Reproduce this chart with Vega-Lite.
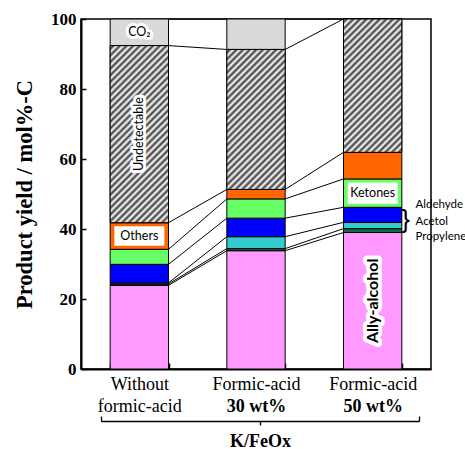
{
  "$schema": "https://vega.github.io/schema/vega-lite/v6.json",
  "width": 350,
  "height": 350,
  "autosize": {"type": "none"},
  "padding": {"left": 81, "top": 19, "right": 34, "bottom": 80},
  "config": {"view": {"stroke": "black", "strokeWidth": 1.5}, "axis": {"grid": false}},
  "data": {"values": [
    {"cond": "Without formic-acid", "n": 1, "seg": "Ally-alcohol", "s": 1, "v": 23.9},
    {"cond": "Without formic-acid", "n": 1, "seg": "Propylene", "s": 2, "v": 0.4},
    {"cond": "Without formic-acid", "n": 1, "seg": "Acetol", "s": 3, "v": 0.3},
    {"cond": "Without formic-acid", "n": 1, "seg": "Aldehyde", "s": 4, "v": 5.3},
    {"cond": "Without formic-acid", "n": 1, "seg": "Ketones", "s": 5, "v": 4.3},
    {"cond": "Without formic-acid", "n": 1, "seg": "Others", "s": 6, "v": 7.6},
    {"cond": "Without formic-acid", "n": 1, "seg": "Undetectable", "s": 7, "v": 50.6},
    {"cond": "Without formic-acid", "n": 1, "seg": "CO₂", "s": 8, "v": 7.6},
    {"cond": "Formic-acid 30 wt%", "n": 2, "seg": "Ally-alcohol", "s": 1, "v": 33.8},
    {"cond": "Formic-acid 30 wt%", "n": 2, "seg": "Propylene", "s": 2, "v": 0.6},
    {"cond": "Formic-acid 30 wt%", "n": 2, "seg": "Acetol", "s": 3, "v": 3.4},
    {"cond": "Formic-acid 30 wt%", "n": 2, "seg": "Aldehyde", "s": 4, "v": 5.3},
    {"cond": "Formic-acid 30 wt%", "n": 2, "seg": "Ketones", "s": 5, "v": 5.5},
    {"cond": "Formic-acid 30 wt%", "n": 2, "seg": "Others", "s": 6, "v": 2.7},
    {"cond": "Formic-acid 30 wt%", "n": 2, "seg": "Undetectable", "s": 7, "v": 40.0},
    {"cond": "Formic-acid 30 wt%", "n": 2, "seg": "CO₂", "s": 8, "v": 8.7},
    {"cond": "Formic-acid 50 wt%", "n": 3, "seg": "Ally-alcohol", "s": 1, "v": 39.0},
    {"cond": "Formic-acid 50 wt%", "n": 3, "seg": "Propylene", "s": 2, "v": 1.1},
    {"cond": "Formic-acid 50 wt%", "n": 3, "seg": "Acetol", "s": 3, "v": 1.8},
    {"cond": "Formic-acid 50 wt%", "n": 3, "seg": "Aldehyde", "s": 4, "v": 4.3},
    {"cond": "Formic-acid 50 wt%", "n": 3, "seg": "Ketones", "s": 5, "v": 8.1},
    {"cond": "Formic-acid 50 wt%", "n": 3, "seg": "Others", "s": 6, "v": 7.6},
    {"cond": "Formic-acid 50 wt%", "n": 3, "seg": "Undetectable", "s": 7, "v": 38.1},
    {"cond": "Formic-acid 50 wt%", "n": 3, "seg": "CO₂", "s": 8, "v": 0}
  ]},
  "transform": [
    {"stack": "v", "groupby": ["cond"], "sort": [{"field": "s"}], "as": ["y0", "y1"]},
    {"window": [{"op": "lead", "field": "y1", "as": "ny"}, {"op": "lead", "field": "cond", "as": "nc"}], "groupby": ["seg"], "sort": [{"field": "n"}]}
  ],
  "resolve": {"scale": {"x": "independent"}, "axis": {"x": "independent", "y": "independent"}},
  "layer": [
    {
      "mark": {"type": "bar", "stroke": "black", "strokeWidth": 1},
      "encoding": {
        "x": {"field": "cond", "type": "nominal",
          "scale": {"type": "band", "domain": ["Without formic-acid", "Formic-acid 30 wt%", "Formic-acid 50 wt%"], "paddingInner": 0.5, "paddingOuter": 0.25},
          "axis": {"orient": "bottom", "title": null, "domainColor": "black", "domainWidth": 2, "tickBand": "extent", "tickColor": "black", "tickSize": -6, "tickWidth": 1.5, "labelFont": "Liberation Serif", "labelFontSize": 18, "labelColor": "black", "labelPadding": 12, "labelLineHeight": 22, "labelAngle": 0, "labelExpr": "datum.label == 'Without formic-acid' ? ['Without', 'formic-acid'] : (datum.label == 'Formic-acid 30 wt%' || datum.label == 'Formic-acid 50 wt%') ? ['Formic-acid', ''] : ''"}},
        "y": {"field": "y0", "type": "quantitative", "scale": {"domain": [0, 100], "nice": false},
          "axis": {"orient": "left", "title": "Product yield / mol%-C", "values": [0, 20, 40, 60, 80, 100], "domainColor": "black", "domainWidth": 2, "tickColor": "black", "tickSize": -5, "tickWidth": 1.5, "labelFont": "Liberation Serif", "labelFontSize": 17, "labelFontWeight": "bold", "labelColor": "black", "labelPadding": 10, "titleFont": "Liberation Serif", "titleFontSize": 22.5, "titleFontWeight": "bold", "titleColor": "black", "titlePadding": 14}},
        "y2": {"field": "y1"},
        "color": {"field": "seg", "type": "nominal", "legend": null,
          "scale": {"domain": ["Ally-alcohol", "Propylene", "Acetol", "Aldehyde", "Ketones", "Others", "Undetectable", "CO₂"],
            "range": ["#ff99ff", "#00703c", "#33cccc", "#0000ff", "#66ff66", "#ff6600", "#9a9a9a", "#d9d9d9"]}}
      }
    },
    {
      "transform": [{"filter": "datum.seg == 'Undetectable' && datum.n == 1"}],
      "mark": {"type": "bar", "stroke": "black", "strokeWidth": 1, "fill": {"gradient": "linear", "x1": 0, "y1": 0, "x2": 0.395, "y2": 1.1993, "stops": [
        {"offset": 0, "color": "#fff"}, {"offset": 0.0141, "color": "#3c3c3c"}, {"offset": 0.0282, "color": "#fff"}, {"offset": 0.0423, "color": "#3c3c3c"}, {"offset": 0.0563, "color": "#fff"}, {"offset": 0.0704, "color": "#3c3c3c"}, {"offset": 0.0845, "color": "#fff"}, {"offset": 0.0986, "color": "#3c3c3c"}, {"offset": 0.1127, "color": "#fff"}, {"offset": 0.1268, "color": "#3c3c3c"}, {"offset": 0.1408, "color": "#fff"}, {"offset": 0.1549, "color": "#3c3c3c"}, {"offset": 0.169, "color": "#fff"}, {"offset": 0.1831, "color": "#3c3c3c"}, {"offset": 0.1972, "color": "#fff"}, {"offset": 0.2113, "color": "#3c3c3c"}, {"offset": 0.2254, "color": "#fff"}, {"offset": 0.2394, "color": "#3c3c3c"}, {"offset": 0.2535, "color": "#fff"}, {"offset": 0.2676, "color": "#3c3c3c"}, {"offset": 0.2817, "color": "#fff"}, {"offset": 0.2958, "color": "#3c3c3c"}, {"offset": 0.3099, "color": "#fff"}, {"offset": 0.3239, "color": "#3c3c3c"}, {"offset": 0.338, "color": "#fff"}, {"offset": 0.3521, "color": "#3c3c3c"}, {"offset": 0.3662, "color": "#fff"}, {"offset": 0.3803, "color": "#3c3c3c"}, {"offset": 0.3944, "color": "#fff"}, {"offset": 0.4085, "color": "#3c3c3c"}, {"offset": 0.4225, "color": "#fff"}, {"offset": 0.4366, "color": "#3c3c3c"}, {"offset": 0.4507, "color": "#fff"}, {"offset": 0.4648, "color": "#3c3c3c"}, {"offset": 0.4789, "color": "#fff"}, {"offset": 0.493, "color": "#3c3c3c"}, {"offset": 0.507, "color": "#fff"}, {"offset": 0.5211, "color": "#3c3c3c"}, {"offset": 0.5352, "color": "#fff"}, {"offset": 0.5493, "color": "#3c3c3c"}, {"offset": 0.5634, "color": "#fff"}, {"offset": 0.5775, "color": "#3c3c3c"}, {"offset": 0.5915, "color": "#fff"}, {"offset": 0.6056, "color": "#3c3c3c"}, {"offset": 0.6197, "color": "#fff"}, {"offset": 0.6338, "color": "#3c3c3c"}, {"offset": 0.6479, "color": "#fff"}, {"offset": 0.662, "color": "#3c3c3c"}, {"offset": 0.6761, "color": "#fff"}, {"offset": 0.6901, "color": "#3c3c3c"}, {"offset": 0.7042, "color": "#fff"}, {"offset": 0.7183, "color": "#3c3c3c"}, {"offset": 0.7324, "color": "#fff"}, {"offset": 0.7465, "color": "#3c3c3c"}, {"offset": 0.7606, "color": "#fff"}, {"offset": 0.7746, "color": "#3c3c3c"}, {"offset": 0.7887, "color": "#fff"}, {"offset": 0.8028, "color": "#3c3c3c"}, {"offset": 0.8169, "color": "#fff"}, {"offset": 0.831, "color": "#3c3c3c"}, {"offset": 0.8451, "color": "#fff"}, {"offset": 0.8592, "color": "#3c3c3c"}, {"offset": 0.8732, "color": "#fff"}, {"offset": 0.8873, "color": "#3c3c3c"}, {"offset": 0.9014, "color": "#fff"}, {"offset": 0.9155, "color": "#3c3c3c"}, {"offset": 0.9296, "color": "#fff"}, {"offset": 0.9437, "color": "#3c3c3c"}, {"offset": 0.9577, "color": "#fff"}, {"offset": 0.9718, "color": "#3c3c3c"}, {"offset": 0.9859, "color": "#fff"}, {"offset": 1, "color": "#3c3c3c"}]}},
      "encoding": {
        "x": {"field": "cond", "type": "nominal", "scale": {"type": "band", "domain": ["Without formic-acid", "Formic-acid 30 wt%", "Formic-acid 50 wt%"], "paddingInner": 0.5, "paddingOuter": 0.25}, "axis": null},
        "y": {"field": "y0", "type": "quantitative", "scale": {"domain": [0, 100], "nice": false}, "axis": null},
        "y2": {"field": "y1"}
      }
    },
    {
      "transform": [{"filter": "datum.seg == 'Undetectable' && datum.n == 2"}],
      "mark": {"type": "bar", "stroke": "black", "strokeWidth": 1, "fill": {"gradient": "linear", "x1": 0, "y1": 0, "x2": 0.5029, "y2": 1.2071, "stops": [
        {"offset": 0, "color": "#fff"}, {"offset": 0.0167, "color": "#3c3c3c"}, {"offset": 0.0333, "color": "#fff"}, {"offset": 0.05, "color": "#3c3c3c"}, {"offset": 0.0667, "color": "#fff"}, {"offset": 0.0833, "color": "#3c3c3c"}, {"offset": 0.1, "color": "#fff"}, {"offset": 0.1167, "color": "#3c3c3c"}, {"offset": 0.1333, "color": "#fff"}, {"offset": 0.15, "color": "#3c3c3c"}, {"offset": 0.1667, "color": "#fff"}, {"offset": 0.1833, "color": "#3c3c3c"}, {"offset": 0.2, "color": "#fff"}, {"offset": 0.2167, "color": "#3c3c3c"}, {"offset": 0.2333, "color": "#fff"}, {"offset": 0.25, "color": "#3c3c3c"}, {"offset": 0.2667, "color": "#fff"}, {"offset": 0.2833, "color": "#3c3c3c"}, {"offset": 0.3, "color": "#fff"}, {"offset": 0.3167, "color": "#3c3c3c"}, {"offset": 0.3333, "color": "#fff"}, {"offset": 0.35, "color": "#3c3c3c"}, {"offset": 0.3667, "color": "#fff"}, {"offset": 0.3833, "color": "#3c3c3c"}, {"offset": 0.4, "color": "#fff"}, {"offset": 0.4167, "color": "#3c3c3c"}, {"offset": 0.4333, "color": "#fff"}, {"offset": 0.45, "color": "#3c3c3c"}, {"offset": 0.4667, "color": "#fff"}, {"offset": 0.4833, "color": "#3c3c3c"}, {"offset": 0.5, "color": "#fff"}, {"offset": 0.5167, "color": "#3c3c3c"}, {"offset": 0.5333, "color": "#fff"}, {"offset": 0.55, "color": "#3c3c3c"}, {"offset": 0.5667, "color": "#fff"}, {"offset": 0.5833, "color": "#3c3c3c"}, {"offset": 0.6, "color": "#fff"}, {"offset": 0.6167, "color": "#3c3c3c"}, {"offset": 0.6333, "color": "#fff"}, {"offset": 0.65, "color": "#3c3c3c"}, {"offset": 0.6667, "color": "#fff"}, {"offset": 0.6833, "color": "#3c3c3c"}, {"offset": 0.7, "color": "#fff"}, {"offset": 0.7167, "color": "#3c3c3c"}, {"offset": 0.7333, "color": "#fff"}, {"offset": 0.75, "color": "#3c3c3c"}, {"offset": 0.7667, "color": "#fff"}, {"offset": 0.7833, "color": "#3c3c3c"}, {"offset": 0.8, "color": "#fff"}, {"offset": 0.8167, "color": "#3c3c3c"}, {"offset": 0.8333, "color": "#fff"}, {"offset": 0.85, "color": "#3c3c3c"}, {"offset": 0.8667, "color": "#fff"}, {"offset": 0.8833, "color": "#3c3c3c"}, {"offset": 0.9, "color": "#fff"}, {"offset": 0.9167, "color": "#3c3c3c"}, {"offset": 0.9333, "color": "#fff"}, {"offset": 0.95, "color": "#3c3c3c"}, {"offset": 0.9667, "color": "#fff"}, {"offset": 0.9833, "color": "#3c3c3c"}, {"offset": 1, "color": "#fff"}]}},
      "encoding": {
        "x": {"field": "cond", "type": "nominal", "scale": {"type": "band", "domain": ["Without formic-acid", "Formic-acid 30 wt%", "Formic-acid 50 wt%"], "paddingInner": 0.5, "paddingOuter": 0.25}, "axis": null},
        "y": {"field": "y0", "type": "quantitative", "scale": {"domain": [0, 100], "nice": false}, "axis": null},
        "y2": {"field": "y1"}
      }
    },
    {
      "transform": [{"filter": "datum.seg == 'Undetectable' && datum.n == 3"}],
      "mark": {"type": "bar", "stroke": "black", "strokeWidth": 1, "fill": {"gradient": "linear", "x1": 0, "y1": 0, "x2": 0.5278, "y2": 1.2066, "stops": [
        {"offset": 0, "color": "#fff"}, {"offset": 0.0172, "color": "#3c3c3c"}, {"offset": 0.0345, "color": "#fff"}, {"offset": 0.0517, "color": "#3c3c3c"}, {"offset": 0.069, "color": "#fff"}, {"offset": 0.0862, "color": "#3c3c3c"}, {"offset": 0.1034, "color": "#fff"}, {"offset": 0.1207, "color": "#3c3c3c"}, {"offset": 0.1379, "color": "#fff"}, {"offset": 0.1552, "color": "#3c3c3c"}, {"offset": 0.1724, "color": "#fff"}, {"offset": 0.1897, "color": "#3c3c3c"}, {"offset": 0.2069, "color": "#fff"}, {"offset": 0.2241, "color": "#3c3c3c"}, {"offset": 0.2414, "color": "#fff"}, {"offset": 0.2586, "color": "#3c3c3c"}, {"offset": 0.2759, "color": "#fff"}, {"offset": 0.2931, "color": "#3c3c3c"}, {"offset": 0.3103, "color": "#fff"}, {"offset": 0.3276, "color": "#3c3c3c"}, {"offset": 0.3448, "color": "#fff"}, {"offset": 0.3621, "color": "#3c3c3c"}, {"offset": 0.3793, "color": "#fff"}, {"offset": 0.3966, "color": "#3c3c3c"}, {"offset": 0.4138, "color": "#fff"}, {"offset": 0.431, "color": "#3c3c3c"}, {"offset": 0.4483, "color": "#fff"}, {"offset": 0.4655, "color": "#3c3c3c"}, {"offset": 0.4828, "color": "#fff"}, {"offset": 0.5, "color": "#3c3c3c"}, {"offset": 0.5172, "color": "#fff"}, {"offset": 0.5345, "color": "#3c3c3c"}, {"offset": 0.5517, "color": "#fff"}, {"offset": 0.569, "color": "#3c3c3c"}, {"offset": 0.5862, "color": "#fff"}, {"offset": 0.6034, "color": "#3c3c3c"}, {"offset": 0.6207, "color": "#fff"}, {"offset": 0.6379, "color": "#3c3c3c"}, {"offset": 0.6552, "color": "#fff"}, {"offset": 0.6724, "color": "#3c3c3c"}, {"offset": 0.6897, "color": "#fff"}, {"offset": 0.7069, "color": "#3c3c3c"}, {"offset": 0.7241, "color": "#fff"}, {"offset": 0.7414, "color": "#3c3c3c"}, {"offset": 0.7586, "color": "#fff"}, {"offset": 0.7759, "color": "#3c3c3c"}, {"offset": 0.7931, "color": "#fff"}, {"offset": 0.8103, "color": "#3c3c3c"}, {"offset": 0.8276, "color": "#fff"}, {"offset": 0.8448, "color": "#3c3c3c"}, {"offset": 0.8621, "color": "#fff"}, {"offset": 0.8793, "color": "#3c3c3c"}, {"offset": 0.8966, "color": "#fff"}, {"offset": 0.9138, "color": "#3c3c3c"}, {"offset": 0.931, "color": "#fff"}, {"offset": 0.9483, "color": "#3c3c3c"}, {"offset": 0.9655, "color": "#fff"}, {"offset": 0.9828, "color": "#3c3c3c"}, {"offset": 1, "color": "#fff"}]}},
      "encoding": {
        "x": {"field": "cond", "type": "nominal", "scale": {"type": "band", "domain": ["Without formic-acid", "Formic-acid 30 wt%", "Formic-acid 50 wt%"], "paddingInner": 0.5, "paddingOuter": 0.25}, "axis": null},
        "y": {"field": "y0", "type": "quantitative", "scale": {"domain": [0, 100], "nice": false}, "axis": null},
        "y2": {"field": "y1"}
      }
    },
    {
      "transform": [{"filter": "(datum.n == 1 && datum.seg == 'Others') || (datum.n == 3 && datum.seg == 'Ketones')"}],
      "mark": {"type": "bar", "fill": "white", "width": 50, "yOffset": -3.5, "y2Offset": 3.5},
      "encoding": {
        "x": {"field": "cond", "type": "nominal", "scale": {"type": "band", "domain": ["Without formic-acid", "Formic-acid 30 wt%", "Formic-acid 50 wt%"], "paddingInner": 0.5, "paddingOuter": 0.25}, "axis": null},
        "y": {"field": "y0", "type": "quantitative", "scale": {"domain": [0, 100], "nice": false}, "axis": null},
        "y2": {"field": "y1"}
      }
    },
    {
      "transform": [{"filter": "datum.nc != null"}],
      "mark": {"type": "rule", "stroke": "black", "strokeWidth": 1, "xOffset": 29.17, "x2Offset": -29.17},
      "encoding": {
        "x": {"field": "cond", "type": "nominal", "scale": {"type": "band", "domain": ["Without formic-acid", "Formic-acid 30 wt%", "Formic-acid 50 wt%"], "paddingInner": 0.5, "paddingOuter": 0.25}, "axis": null},
        "x2": {"field": "nc"},
        "y": {"field": "y1", "type": "quantitative", "scale": {"domain": [0, 100], "nice": false}, "axis": null},
        "y2": {"field": "ny"}
      }
    },
    {
      "transform": [{"filter": "(datum.n == 1 && (datum.seg == 'CO₂' || datum.seg == 'Others')) || (datum.n == 3 && datum.seg == 'Ketones')"}, {"calculate": "(datum.y0 + datum.y1) / 2", "as": "mid"}],
      "layer": [
        {"mark": {"type": "text", "font": "Lato", "fontSize": 12.5, "fill": "white", "stroke": "white", "strokeWidth": 6, "strokeJoin": "round", "baseline": "middle"}},
        {"mark": {"type": "text", "font": "Lato", "fontSize": 12.5, "fill": "black", "baseline": "middle"}}
      ],
      "encoding": {
        "x": {"field": "cond", "type": "nominal", "scale": {"type": "band", "domain": ["Without formic-acid", "Formic-acid 30 wt%", "Formic-acid 50 wt%"], "paddingInner": 0.5, "paddingOuter": 0.25}, "axis": null},
        "y": {"field": "mid", "type": "quantitative", "scale": {"domain": [0, 100], "nice": false}, "axis": null},
        "text": {"field": "seg"}
      }
    },
    {
      "transform": [{"filter": "datum.n == 1 && datum.seg == 'Undetectable'"}, {"calculate": "(datum.y0 + datum.y1) / 2", "as": "mid"}],
      "layer": [
        {"mark": {"type": "text", "font": "Lato", "fontSize": 12.5, "angle": 270, "fill": "white", "stroke": "white", "strokeWidth": 6, "strokeJoin": "round", "baseline": "middle"}},
        {"mark": {"type": "text", "font": "Lato", "fontSize": 12.5, "angle": 270, "fill": "black", "baseline": "middle"}}
      ],
      "encoding": {
        "x": {"field": "cond", "type": "nominal", "scale": {"type": "band", "domain": ["Without formic-acid", "Formic-acid 30 wt%", "Formic-acid 50 wt%"], "paddingInner": 0.5, "paddingOuter": 0.25}, "axis": null},
        "y": {"field": "mid", "type": "quantitative", "scale": {"domain": [0, 100], "nice": false}, "axis": null},
        "text": {"field": "seg"}
      }
    },
    {
      "transform": [{"filter": "datum.n == 3 && datum.seg == 'Ally-alcohol'"}, {"calculate": "(datum.y0 + datum.y1) / 2", "as": "mid"}],
      "layer": [
        {"mark": {"type": "text", "font": "Lato", "fontSize": 16, "fontWeight": "bold", "angle": 270, "fill": "white", "stroke": "white", "strokeWidth": 8, "strokeJoin": "round", "baseline": "middle"}},
        {"mark": {"type": "text", "font": "Lato", "fontSize": 16, "fontWeight": "bold", "angle": 270, "fill": "black", "baseline": "middle"}}
      ],
      "encoding": {
        "x": {"field": "cond", "type": "nominal", "scale": {"type": "band", "domain": ["Without formic-acid", "Formic-acid 30 wt%", "Formic-acid 50 wt%"], "paddingInner": 0.5, "paddingOuter": 0.25}, "axis": null},
        "y": {"field": "mid", "type": "quantitative", "scale": {"domain": [0, 100], "nice": false}, "axis": null},
        "text": {"field": "seg"}
      }
    },
    {
      "data": {"values": [{}]},
      "mark": {"type": "text", "text": "}", "font": "Liberation Sans", "fontSize": 26, "xOffset": 33, "baseline": "middle", "fill": "black"},
      "encoding": {
        "x": {"datum": "Formic-acid 50 wt%", "type": "nominal", "scale": {"type": "band", "domain": ["Without formic-acid", "Formic-acid 30 wt%", "Formic-acid 50 wt%"], "paddingInner": 0.5, "paddingOuter": 0.25}, "axis": null},
        "y": {"datum": 42.5, "type": "quantitative", "scale": {"domain": [0, 100], "nice": false}, "axis": null}
      }
    },
    {
      "mark": {"type": "point", "opacity": 0},
      "encoding": {
        "x": {"field": "cond", "type": "nominal", "scale": {"type": "band", "domain": ["Without formic-acid", "Formic-acid 30 wt%", "Formic-acid 50 wt%"], "paddingInner": 0.5, "paddingOuter": 0.25},
          "axis": {"orient": "bottom", "title": null, "domain": false, "tickBand": "extent", "ticks": true, "tickSize": -6, "tickOpacity": 0, "labelFont": "Liberation Serif", "labelFontSize": 18, "labelFontWeight": "bold", "labelColor": "black", "labelPadding": 12, "labelLineHeight": 22, "labelAngle": 0, "labelExpr": "(datum.label == 'Formic-acid 30 wt%' || datum.label == 'Formic-acid 50 wt%') ? ['', slice(datum.label, 12)] : ''"}}
      }
    },
    {
      "mark": {"type": "point", "opacity": 0},
      "encoding": {
        "x": {"datum": 0.5, "type": "quantitative", "scale": {"domain": [0, 1], "range": [20, 338], "nice": false, "zero": false},
          "axis": {"orient": "bottom", "offset": 52, "values": [0, 0.5, 1], "labels": false, "domainColor": "black", "domainWidth": 1.3, "tickColor": "black", "tickWidth": 1.3, "tickSize": {"condition": {"test": "datum.value == 0.5", "value": 4}, "value": -5}, "title": "K/FeOx", "titleFont": "Liberation Serif", "titleFontSize": 18, "titleFontWeight": "bold", "titleColor": "black", "titlePadding": 7}}
      }
    },
    {
      "mark": {"type": "point", "opacity": 0},
      "encoding": {
        "y": {"datum": 50, "type": "quantitative", "scale": {"domain": [0, 100], "nice": false},
          "axis": {"orient": "right", "title": null, "values": [46.9, 42.1, 37.8], "domain": false, "ticks": false, "labelPadding": -16, "labelFont": "Lato", "labelFontSize": 11.5, "labelColor": "black", "labelAlign": "left", "labelBaseline": "middle", "labelOverlap": false, "labelExpr": "datum.value > 45 ? 'Aldehyde' : datum.value > 40 ? 'Acetol' : 'Propylene'"}}
      }
    }
  ]
}
